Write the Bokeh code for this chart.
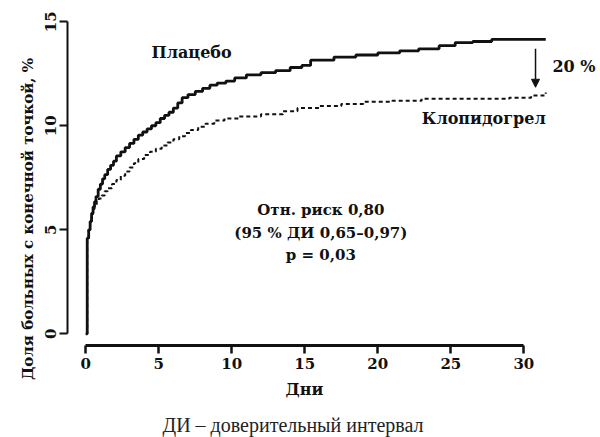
from bokeh.plotting import figure
from bokeh.models import Range1d, Label, Arrow, NormalHead, FixedTicker
from bokeh.embed import file_html
from bokeh.resources import INLINE

# ---- data ----
days_placebo = [0, 0.1, 0.2, 0.3, 0.4, 0.5, 0.6, 0.7, 0.85, 1.0, 1.15, 1.3, 1.5, 1.7,
                1.9, 2.1, 2.4, 2.7, 3.0, 3.3, 3.6, 3.9, 4.2, 4.5, 4.8, 5.1, 5.4, 5.7,
                6.0, 6.3, 6.6, 7.0, 7.5, 8.0, 8.5, 9.0, 9.6, 10.2, 11.0, 12.0, 13.0,
                14.0, 14.8, 15.4, 17.0, 18.5, 20.0, 21.5, 22.8, 24.2, 25.3, 26.5,
                27.8, 31.5]
pct_placebo = [0, 4.6, 5.0, 5.4, 5.8, 6.1, 6.35, 6.6, 6.95, 7.2, 7.45, 7.65, 7.9, 8.1,
               8.3, 8.55, 8.75, 8.95, 9.15, 9.35, 9.55, 9.7, 9.85, 10.0, 10.15, 10.35,
               10.5, 10.65, 10.85, 11.1, 11.35, 11.5, 11.65, 11.8, 11.95, 12.05, 12.15,
               12.3, 12.45, 12.55, 12.65, 12.8, 12.9, 13.15, 13.3, 13.4, 13.5, 13.6,
               13.7, 13.85, 14.0, 14.05, 14.15, 14.15]

days_clopidogrel = [0, 0.1, 0.2, 0.3, 0.4, 0.5, 0.6, 0.75, 0.9, 1.1, 1.3, 1.5, 1.8,
                    2.1, 2.4, 2.7, 3.0, 3.3, 3.6, 4.0, 4.4, 4.8, 5.2, 5.6, 6.0, 6.4,
                    6.8, 7.2, 7.7, 8.2, 8.8, 9.5, 10.5, 12.0, 13.5, 14.5, 16.0, 17.5,
                    19.0, 21.0, 23.0, 26.0, 29.0, 30.5, 31.5]
pct_clopidogrel = [0, 4.5, 5.0, 5.4, 5.75, 6.0, 6.2, 6.35, 6.5, 6.65, 6.85, 7.0, 7.2,
                   7.4, 7.6, 7.8, 8.0, 8.2, 8.4, 8.6, 8.75, 8.9, 9.05, 9.2, 9.35, 9.5,
                   9.65, 9.8, 9.95, 10.1, 10.25, 10.35, 10.45, 10.55, 10.7, 10.85,
                   10.95, 11.05, 11.15, 11.2, 11.3, 11.3, 11.35, 11.45, 11.6]

x_ticks = [0, 5, 10, 15, 20, 25, 30]
y_ticks = [0, 5, 10, 15]

x_title = "Дни"
y_title = "Доля больных с конечной точкой, %"
name_placebo = "Плацебо"
name_clopidogrel = "Клопидогрел"
reduction_text = "20 %"
stats_lines = ["Отн. риск 0,80", "(95 % ДИ 0,65–0,97)", "p = 0,03"]
caption = "ДИ – доверительный интервал"

INK = "#111111"
BOLD_FONT = "DejaVu Serif"

p = figure(width=600, height=437, output_backend="svg", toolbar_location=None,
           x_range=Range1d(-1.25, 35.25), y_range=Range1d(-4.98, 16.02),
           min_border_left=67, min_border_right=0, min_border_top=0,
           min_border_bottom=0)
p.outline_line_color = None
p.grid.visible = False
p.background_fill_color = "white"
p.border_fill_color = "white"

# axes
p.xaxis.fixed_location = -0.5625   # detached x axis, just below zero
p.xaxis.bounds = (0, 30)
p.yaxis.bounds = (0, 15)
p.xaxis.ticker = FixedTicker(ticks=x_ticks)
p.yaxis.ticker = FixedTicker(ticks=y_ticks)
for ax in (p.xaxis, p.yaxis):
    ax.minor_tick_line_color = None
    ax.major_tick_in = 0
    ax.major_tick_out = 8
    ax.axis_line_color = INK
    ax.major_tick_line_color = INK
    ax.major_label_text_font = BOLD_FONT
    ax.major_label_text_font_style = "bold"
    ax.major_label_text_font_size = "15px"
    ax.major_label_text_color = INK
    ax.axis_label_text_font = BOLD_FONT
    ax.axis_label_text_font_style = "bold"
    ax.axis_label_text_color = INK
p.xaxis.axis_label_text_font_size = "16px"
p.yaxis.axis_label_text_font_size = "15px"
p.xaxis.axis_line_width = 3
p.xaxis.major_tick_line_width = 2.5
p.yaxis.axis_line_width = 2
p.yaxis.major_tick_line_width = 2
p.xaxis.major_label_standoff = 4
p.yaxis.major_label_standoff = 3
p.yaxis.major_label_orientation = "vertical"
p.xaxis.axis_label = x_title
p.yaxis.axis_label = y_title
p.xaxis.axis_label_standoff = 8
p.yaxis.axis_label_standoff = 6

# curves
p.step(days_clopidogrel, pct_clopidogrel, mode="after", line_color=INK,
       line_width=2, line_dash="4 3")
p.step(days_placebo, pct_placebo, mode="after", line_color=INK, line_width=2.8)

# arrow between curve ends
arrow_x = 30.8
p.add_layout(Arrow(end=NormalHead(size=8, fill_color=INK, line_color=INK),
                   x_start=arrow_x, y_start=pct_placebo[-1] - 0.45,
                   x_end=arrow_x, y_end=pct_clopidogrel[-1] + 0.25,
                   line_color=INK, line_width=1.5))

def lab(x, y, text, align="center", size="16px"):
    p.add_layout(Label(x=x, y=y, text=text, text_align=align,
                       text_baseline="middle", text_font=BOLD_FONT,
                       text_font_style="bold", text_font_size=size,
                       text_color=INK))

lab(7.25, 13.52, name_placebo)
lab(31.5, 10.37, name_clopidogrel, align="right")
lab(31.96, 12.83, reduction_text, align="left")
for i, line in enumerate(stats_lines):
    lab(16.1, 5.93 - i * 1.06, line, size="15px")

# caption at the bottom
p.add_layout(Label(x=225.5, x_units="screen", y=-4.38, text=caption,
                   text_align="center", text_baseline="middle",
                   text_font="Liberation Serif", text_font_size="20px",
                   text_color="#222222"))

open("out.html", "w").write(file_html(p, INLINE))
